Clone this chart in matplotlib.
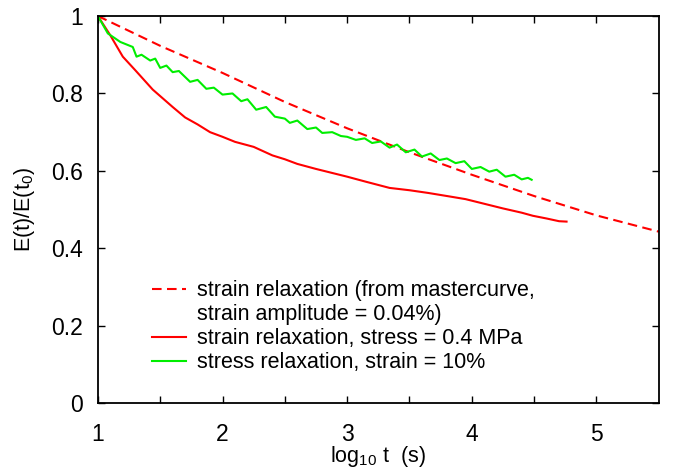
import matplotlib
matplotlib.use("Agg")
import matplotlib.pyplot as plt
from matplotlib.lines import Line2D

plt.rcParams['font.family'] = ['Liberation Sans', 'DejaVu Sans']
plt.rcParams['mathtext.fontset'] = 'custom'
plt.rcParams['mathtext.rm'] = 'Liberation Sans'
plt.rcParams['mathtext.it'] = 'Liberation Sans'

# curva maestra (discontinua)
x_master = [1.0, 1.5, 2.0, 2.5, 3.0, 3.5, 4.0, 4.5, 5.0, 5.5]
y_master = [1.0, 0.923, 0.853, 0.778, 0.71, 0.648, 0.59, 0.535, 0.485, 0.443]

# relajacion de deformacion, stress = 0.4 MPa
x_strain = [1.0, 1.05, 1.1, 1.2, 1.3, 1.44, 1.6, 1.7, 1.8, 1.9, 2.0, 2.1, 2.25,
            2.4, 2.5, 2.6, 2.75, 2.9, 3.0, 3.15, 3.34, 3.5, 3.65, 3.82, 3.95,
            4.1, 4.25, 4.4, 4.49, 4.6, 4.7, 4.76]
y_strain = [1.0, 0.975, 0.95, 0.895, 0.86, 0.81, 0.765, 0.738, 0.72, 0.7, 0.688,
            0.675, 0.662, 0.64, 0.63, 0.618, 0.605, 0.593, 0.585, 0.572, 0.556,
            0.55, 0.543, 0.534, 0.527, 0.515, 0.503, 0.492, 0.484, 0.477, 0.47, 0.469]

# relajacion de esfuerzo, strain = 10%
x_stress = [1.0, 1.08, 1.18, 1.28, 1.31, 1.35, 1.42, 1.46, 1.5, 1.55, 1.6, 1.65,
            1.74, 1.8, 1.87, 1.93, 2.0, 2.08, 2.15, 2.2, 2.27, 2.35, 2.42, 2.5,
            2.54, 2.6, 2.68, 2.75, 2.8, 2.88, 2.95, 3.0, 3.07, 3.14, 3.2, 3.27,
            3.34, 3.4, 3.47, 3.54, 3.6, 3.67, 3.74, 3.8, 3.87, 3.94, 4.0, 4.07,
            4.14, 4.2, 4.27, 4.34, 4.4, 4.45, 4.48]
y_stress = [1.0, 0.955, 0.933, 0.92, 0.895, 0.9, 0.885, 0.89, 0.866, 0.872, 0.855,
            0.858, 0.83, 0.835, 0.812, 0.815, 0.797, 0.8, 0.78, 0.785, 0.758,
            0.765, 0.74, 0.735, 0.724, 0.73, 0.708, 0.712, 0.698, 0.7, 0.69,
            0.688, 0.68, 0.684, 0.672, 0.676, 0.66, 0.668, 0.648, 0.655, 0.637,
            0.645, 0.628, 0.632, 0.62, 0.625, 0.605, 0.61, 0.598, 0.603, 0.585,
            0.59, 0.578, 0.582, 0.577]

x_ticks = [1, 1.5, 2, 2.5, 3, 3.5, 4, 4.5, 5]
x_ticklabels = ['1', '', '2', '', '3', '', '4', '', '5']
y_ticks = [0, 0.2, 0.4, 0.6, 0.8, 1]
y_ticklabels = ['0', '0.2', '0.4', '0.6', '0.8', '1']

etiquetas = ["strain relaxation (from mastercurve,",
             "strain amplitude = 0.04%)",
             "strain relaxation, stress = 0.4 MPa",
             "stress relaxation, strain = 10%"]

fig = plt.figure(figsize=(6.75, 4.71), dpi=100)
ax = fig.add_axes([0.145, 0.144, 0.831, 0.822])

l1, = ax.plot(x_master, y_master, color='#ff0000', lw=1.5, ls=(0, (4.6, 2.6)))
l2, = ax.plot(x_strain, y_strain, color='#ff0000', lw=1.5)
l3, = ax.plot(x_stress, y_stress, color='#00ee00', lw=1.5)

ax.set_xlim(1, 5.5)
ax.set_ylim(0, 1)
ax.set_xticks(x_ticks)
ax.set_xticklabels(x_ticklabels)
ax.set_yticks(y_ticks)
ax.set_yticklabels(y_ticklabels)
ax.tick_params(direction='in', length=5, width=1, top=True, right=True,
               labelsize=16.5)
ax.tick_params(axis='x', pad=14)
ax.tick_params(axis='y', pad=11)
for s in ax.spines.values():
    s.set_linewidth(1.3)

ax.set_xlabel(r"log$_{10}$ t  (s)", fontsize=15.5, labelpad=-1)
ax.set_ylabel(r"E(t)/E(t$_0$)", fontsize=15.5, labelpad=10)

# segunda linea de la primera etiqueta sin simbolo
vacio = Line2D([], [], color='none')
ax.legend([l1, vacio, l2, l3], etiquetas, loc='lower left',
          bbox_to_anchor=(0.082, 0.055), frameon=False,
          fontsize=15.5, handlelength=1.55, handletextpad=0.5,
          labelspacing=0.14, borderaxespad=0)

fig.savefig("out.png", dpi=100)
